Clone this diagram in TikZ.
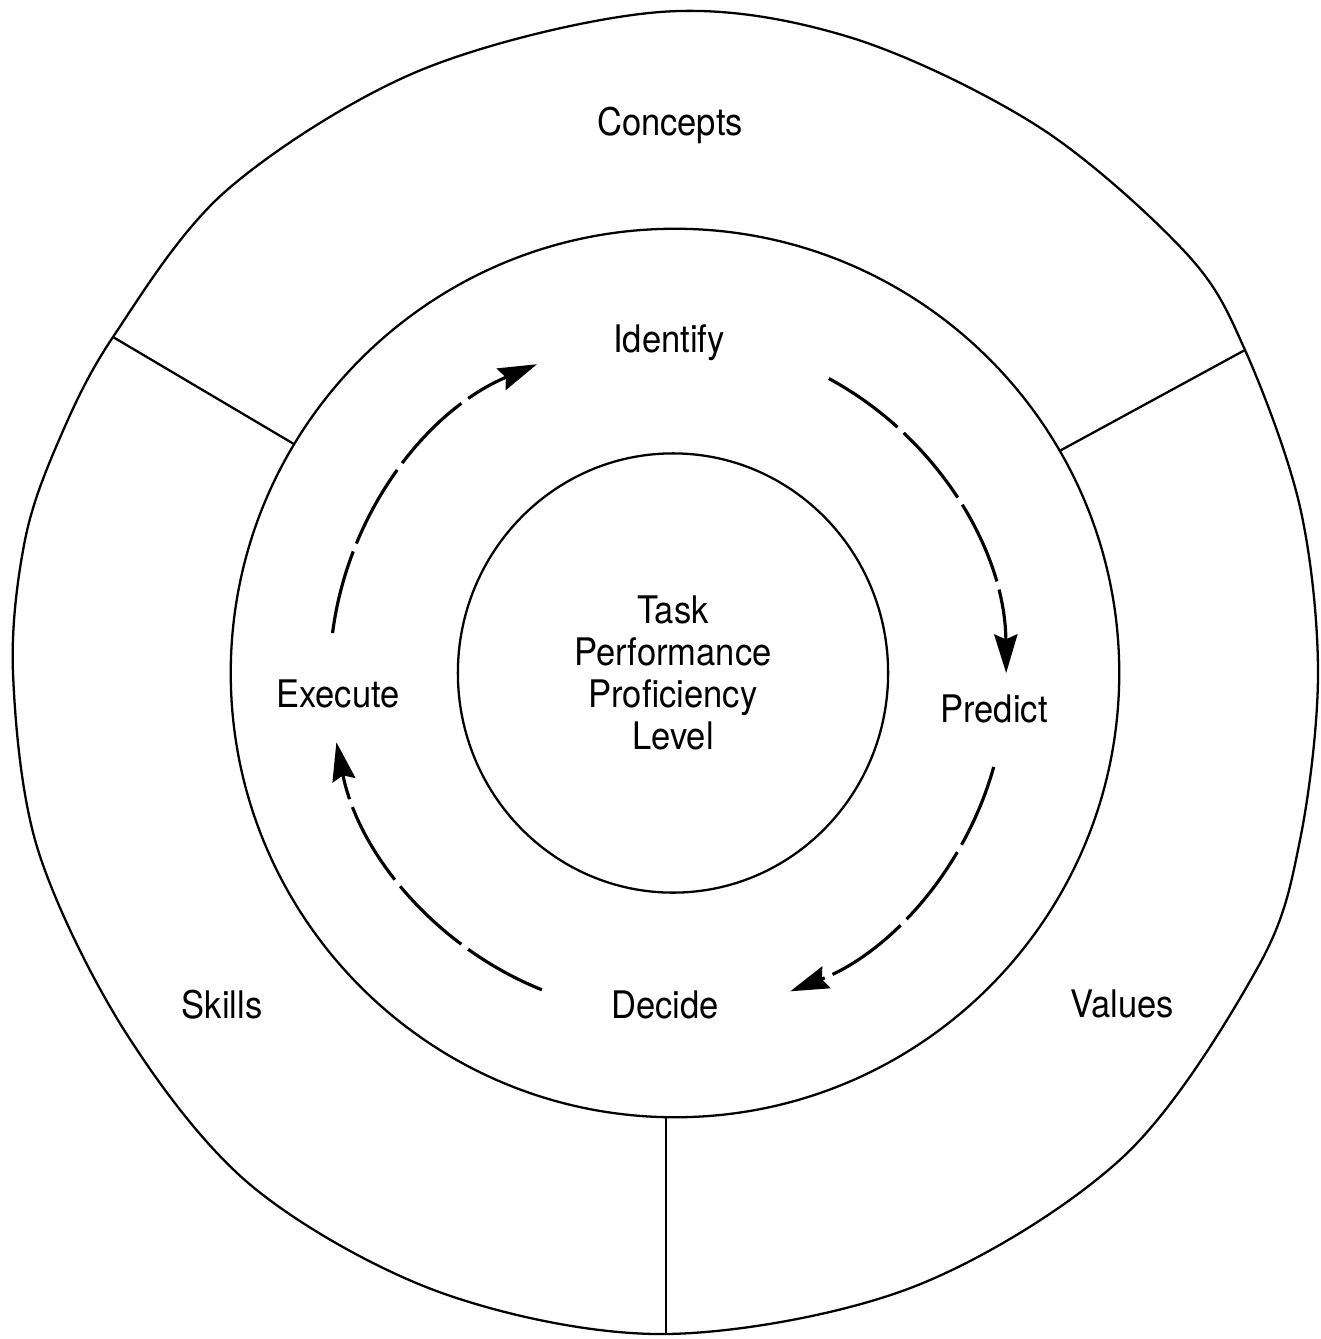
\documentclass[tikz,border=0pt]{standalone}
\usepackage{fontspec}
\setmainfont{TeX Gyre Heros}[FakeStretch=0.91]
\usetikzlibrary{arrows.meta,shapes.geometric}

\begin{document}
\begin{tikzpicture}[x=0.01cm,y=0.01cm,
  ring/.style={line width=0.65pt},
  lbl/.style={font=\fontsize{10.8}{12}\selectfont, inner sep=0pt, anchor=base},
  cyclearrow/.style={line width=0.9pt, dash pattern=on 24pt off 2.4pt,
    -{Stealth[length=11pt,width=6.6pt,inset=1.4pt]}}]
\useasboundingbox (0,0) rectangle (1320,-1339);

% outer band: Concepts / Values / Skills
\draw[ring] plot[smooth cycle, tension=0.55] coordinates {
  (660,-12) (849,-37) (1039,-127) (1186,-253) (1245,-350) (1300,-507)
  (1318,-673) (1300,-840) (1258,-967) (1123,-1157) (913,-1287) (666,-1334)
  (442,-1293) (253,-1187) (126,-1033) (38,-850) (13,-673) (25,-540)
  (59,-440) (113,-337) (227,-190) (421,-70)};
\coordinate (oNW) at (113,-337);
\coordinate (oNE) at (1245,-350);
\coordinate (oS)  at (666,-1334);

% middle ring and core
\node[ring, draw, circle, minimum size=8.88cm, inner sep=0pt] (mid) at (675,-673) {};
\node[ring, draw, ellipse, minimum width=4.30cm, minimum height=4.39cm, inner sep=0pt,
      align=center, font=\fontsize{10.8}{12}\selectfont] (core) at (673,-673)
      {Task\\Performance\\Proficiency\\Level};

% sector dividers
\draw[ring] (oNW) -- (mid.149.6);
\draw[ring] (oNE) -- (mid.30.5);
\draw[ring] (oS) -- (oS |- mid.south);

% labels
\node[lbl] (concepts) at (670,-135) {Concepts};
\node[lbl] (skills)   at (222,-1018) {Skills};
\node[lbl] (values)   at (1122,-1017) {Values};
\node[lbl] (identify) at (669,-352) {Identify};
\node[lbl] (predict)  at (994,-722) {Predict};
\node[lbl] (decide)   at (665,-1018) {Decide};
\node[lbl] (execute)  at (338,-707) {Execute};

% the cycle of dashed arcs
\coordinate (hub) at (668,-676);
\draw[cyclearrow] (hub) ++(61.6:3.38cm)  arc[start angle=61.6,  end angle=0.5,   radius=3.38cm];
\draw[cyclearrow] (hub) ++(-15.6:3.38cm) arc[start angle=-15.6, end angle=-68.8, radius=3.38cm];
\draw[cyclearrow] (hub) ++(248.1:3.38cm) arc[start angle=248.1, end angle=191.3, radius=3.38cm];
\draw[cyclearrow] (hub) ++(172.7:3.38cm) arc[start angle=172.7, end angle=112.8, radius=3.38cm];
\end{tikzpicture}
\end{document}
